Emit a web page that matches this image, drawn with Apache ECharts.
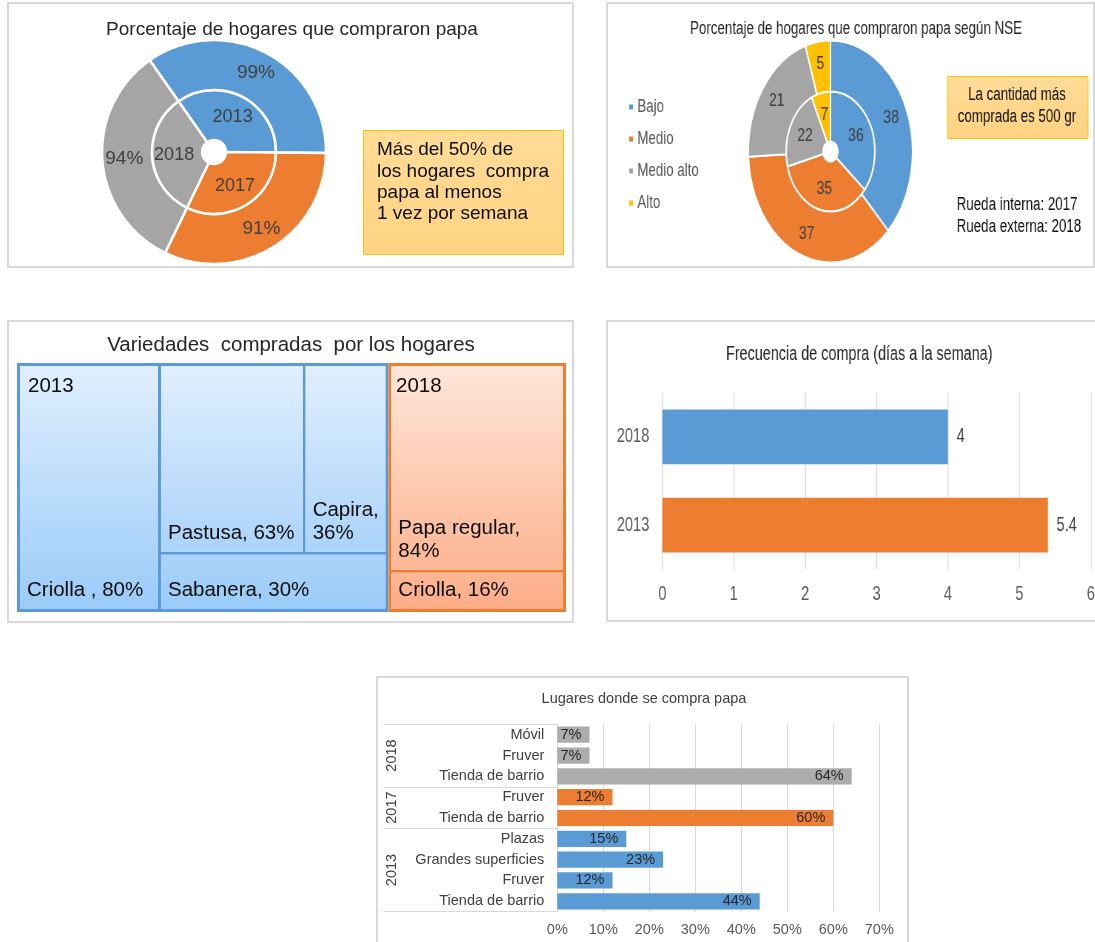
<!DOCTYPE html>
<html>
<head>
<meta charset="utf-8">
<title>Compra de papa</title>
<script src="https://cdn.jsdelivr.net/npm/echarts/dist/echarts.min.js"></script>
<style>
  html, body { margin: 0; padding: 0; background: #fff; overflow: hidden; }
  body { width: 1095px; height: 942px; position: relative; }
  .panel { position: absolute; box-sizing: border-box; border: 2px solid #d9d9d9; background: #fff; }
  .chart { position: absolute; }
  .narrow { transform-origin: 0 0; }
</style>
</head>
<body>
  <div class="panel" style="left:7px;top:2px;width:567px;height:266px"></div>
  <div class="panel" style="left:606px;top:2px;width:489px;height:266px"></div>
  <div class="panel" style="left:7px;top:320px;width:567px;height:303px"></div>
  <div class="panel" style="left:606px;top:320px;width:500px;height:302px"></div>
  <div class="panel" style="left:376px;top:676px;width:533px;height:300px"></div>

  <div id="main" class="chart" style="left:0;top:0;width:1095px;height:942px"></div>
  <!-- los dos paneles de la derecha vienen estirados en el original -->
  <div id="nse" class="chart narrow" style="left:607px;top:3px;width:660px;height:265px;transform:scaleX(0.74)"></div>
  <div id="frec" class="chart narrow" style="left:607px;top:321px;width:700px;height:301px;transform:scaleX(0.72)"></div>

<script>
// ---- datos ----
// Porcentaje de hogares que compraron papa
const anios = ['2013', '2017', '2018']
const pctCompra = [99, 91, 94]

// Porcentaje según NSE (rueda interna 2017, externa 2018)
const nse = ['Bajo', 'Medio', 'Medio alto', 'Alto']
const nse2017 = [36, 35, 22, 7]
const nse2018 = [38, 37, 21, 5]

// Variedades compradas
const variedades2013 = ['Criolla ', 'Pastusa', 'Capira', 'Sabanera']
const valVariedades2013 = [80, 63, 36, 30]
const variedades2018 = ['Papa regular', 'Criolla']
const valVariedades2018 = [84, 16]

// Frecuencia de compra (días a la semana)
const frecAnios = ['2013', '2018']
const frecDias = [5.4, 4]

// Lugares donde se compra papa (de abajo hacia arriba)
const lugares2013 = ['Tienda de barrio', 'Fruver', 'Grandes superficies', 'Plazas']
const valLugares2013 = [44, 12, 23, 15]
const lugares2017 = ['Tienda de barrio', 'Fruver']
const valLugares2017 = [60, 12]
const lugares2018 = ['Tienda de barrio', 'Fruver', 'Móvil']
const valLugares2018 = [64, 7, 7]

// ---- estilos ----
const azul = '#5B9BD5'
const naranja = '#ED7D31'
const gris = '#A5A5A5'
const amarillo = '#FFC000'
const grisLugar = '#AEABAB'
const fuente = "'Liberation Sans', Arial, sans-serif"

// tonos del degradado de cada celda del treemap (arriba, abajo)
const tonos2013 = [['#E0EFFE', '#9ACBF8'], ['#E0EFFE', '#ABD3F9'], ['#E0EFFE', '#ABD3F9'], ['#ABD3F9', '#9ACBF8']]
const tonos2018 = [['#FFE6DA', '#FCB694'], ['#FCB694', '#FBAC86']]
// etiquetas que van en dos líneas
const enDosLineas = ['Capira', 'Papa regular']

function texto (x, y, text, size, more) {
  let style = {
    text: text,
    fontSize: size,
    fontFamily: fuente,
    fill: '#262626',
    align: 'center',
    verticalAlign: 'middle',
    textAlign: 'center',
    textVerticalAlign: 'middle'
  }
  Object.assign(style, more || {})
  return { type: 'text', x: x, y: y, z: 100, silent: true, style: style }
}

function cajaAmarilla (x, y, w, h) {
  return {
    type: 'rect',
    silent: true,
    shape: { x: x, y: y, width: w, height: h },
    style: {
      fill: {
        type: 'linear', x: 0, y: 0, x2: 0, y2: 1,
        colorStops: [{ offset: 0, color: '#FFDC97' }, { offset: 1, color: '#FFD382' }]
      },
      stroke: amarillo,
      lineWidth: 1
    }
  }
}

function degradado (t) {
  return {
    type: 'linear', x: 0, y: 0, x2: 0, y2: 1,
    colorStops: [{ offset: 0, color: t[0] }, { offset: 1, color: t[1] }]
  }
}

// ---- lugares: eje de dos niveles ----
const grupos = [
  { anio: '2013', lugares: lugares2013, valores: valLugares2013, color: azul },
  { anio: '2017', lugares: lugares2017, valores: valLugares2017, color: naranja },
  { anio: '2018', lugares: lugares2018, valores: valLugares2018, color: grisLugar }
]
let lugarCats = []
let lugarVals = []
let tickIdx = [0]
let anioIdx = []
let n = 0
grupos.forEach(g => {
  g.lugares.forEach((l, i) => {
    lugarCats.push(l)
    lugarVals.push({ value: g.valores[i], itemStyle: { color: g.color } })
  })
  anioIdx.push(2 * n + g.lugares.length)
  n += g.lugares.length
  tickIdx.push(2 * n)
})
let anioSlots = []
for (let k = 0; k <= 2 * n; k++) anioSlots.push('')
grupos.forEach((g, i) => { anioSlots[anioIdx[i]] = g.anio })

// ---- gráfico principal: paneles 1, 3 y 5 ----
let main = echarts.init(document.getElementById('main'))
let mainOption = {
  animation: false,
  textStyle: { fontFamily: fuente },
  graphic: [
    texto(292, 29.5, 'Porcentaje de hogares que compraron papa', 19),
    cajaAmarilla(363.5, 130.5, 200, 124),
    texto(377, 139.5, 'Más del 50% de\nlos hogares  compra\npapa al menos\n1 vez por semana', 19, {
      align: 'left', textAlign: 'left', verticalAlign: 'top', textVerticalAlign: 'top', lineHeight: 21.2, fill: '#0d0d0d'
    }),
    texto(291, 345, 'Variedades  compradas  por los hogares', 20.5),
    texto(28, 386, '2013', 20.5, { align: 'left', textAlign: 'left', fill: '#0d0d0d' }),
    texto(396, 386, '2018', 20.5, { align: 'left', textAlign: 'left', fill: '#0d0d0d' }),
    texto(644, 698.5, 'Lugares donde se compra papa', 14.5, { fill: '#404040' })
  ],
  grid: {
    left: 557.3,
    top: 724.3,
    width: 322,
    height: 187.4,
    containLabel: false,
    outerBoundsMode: 'none'
  },
  xAxis: {
    type: 'value',
    min: 0,
    max: 70,
    interval: 10,
    axisLine: { show: false },
    axisTick: { show: false },
    splitLine: { lineStyle: { color: '#D9D9D9' } },
    axisLabel: { formatter: '{value}%', fontSize: 14.5, color: '#595959', margin: 11 }
  },
  yAxis: [
    {
      type: 'category',
      data: lugarCats,
      axisLine: { show: true, lineStyle: { color: '#D9D9D9' } },
      axisTick: { show: false },
      axisLabel: { interval: 0, fontSize: 14.5, color: '#404040', margin: 13 }
    },
    {
      type: 'category',
      data: anioSlots,
      boundaryGap: false,
      min: 0,
      max: anioSlots.length - 1,
      position: 'left',
      axisLine: { show: false },
      axisTick: {
        show: true,
        length: 174,
        interval: (i) => tickIdx.indexOf(i) >= 0,
        lineStyle: { color: '#D9D9D9' }
      },
      axisLabel: {
        interval: (i) => anioIdx.indexOf(i) >= 0,
        rotate: 90,
        margin: 158,
        fontSize: 14.5,
        color: '#404040'
      }
    }
  ],
  series: [
    {
      type: 'pie',
      silent: true,
      center: [214, 152],
      radius: [12, 62],
      startAngle: 125,
      clockwise: true,
      label: { position: 'inside', formatter: '{b}', fontSize: 18, color: '#404040' },
      labelLine: { show: false },
      itemStyle: { borderColor: '#fff', borderWidth: 2.5 },
      data: anios.map((a, i) => ({ name: a, value: pctCompra[i], itemStyle: { color: [azul, naranja, gris][i] } }))
    },
    {
      type: 'pie',
      silent: true,
      center: [214, 152],
      radius: [62, 112],
      startAngle: 125,
      clockwise: true,
      label: { position: 'inside', formatter: '{c}%', fontSize: 19, color: '#404040' },
      labelLine: { show: false },
      itemStyle: { borderColor: '#fff', borderWidth: 2.5 },
      data: anios.map((a, i) => ({ name: a, value: pctCompra[i], itemStyle: { color: [azul, naranja, gris][i] } }))
    },
    {
      type: 'treemap',
      silent: true,
      roam: false,
      nodeClick: false,
      breadcrumb: { show: false },
      left: 17,
      top: 363,
      width: 549,
      height: 249,
      squareRatio: 1.125,
      label: {
        show: true,
        position: 'insideBottomLeft',
        distance: 2,
        padding: 5,
        overflow: 'break',
        fontSize: 20.5,
        lineHeight: 23,
        color: '#0d0d0d',
        formatter: (p) => p.name + ',' + (enDosLineas.indexOf(p.name) >= 0 ? '\n' : ' ') + p.value + '%'
      },
      levels: [
        { itemStyle: { borderWidth: 0, gapWidth: 0, borderColor: '#fff' } },
        { itemStyle: { borderWidth: 3, gapWidth: 3 } },
        { itemStyle: { borderWidth: 0 } }
      ],
      data: [
        {
          name: '2013',
          itemStyle: { borderColor: azul },
          children: variedades2013.map((v, i) => ({ name: v, value: valVariedades2013[i], itemStyle: { color: degradado(tonos2013[i]) } }))
        },
        {
          name: '2018',
          itemStyle: { borderColor: naranja },
          children: variedades2018.map((v, i) => ({ name: v, value: valVariedades2018[i], itemStyle: { color: degradado(tonos2018[i]) } }))
        }
      ]
    },
    {
      type: 'bar',
      silent: true,
      xAxisIndex: 0,
      yAxisIndex: 0,
      barWidth: '78%',
      label: {
        show: true,
        position: 'insideRight',
        distance: 8,
        formatter: '{c}%',
        fontSize: 14.5,
        color: '#262626'
      },
      data: lugarVals
    }
  ]
}
main.setOption(mainOption)

// ---- panel 2: según NSE ----
let nseChart = echarts.init(document.getElementById('nse'))
let nseOption = {
  animation: false,
  textStyle: { fontFamily: fuente },
  color: [azul, naranja, gris, amarillo],
  legend: {
    data: nse,
    orient: 'vertical',
    left: 23,
    top: 90,
    icon: 'rect',
    itemWidth: 7,
    itemHeight: 7,
    itemGap: 14,
    selectedMode: false,
    textStyle: { fontSize: 18, color: '#595959' }
  },
  graphic: [
    texto(336.5, 26.5, 'Porcentaje de hogares que compraron papa según NSE', 18),
    cajaAmarilla(460, 73.5, 190, 62),
    texto(554, 103, 'La cantidad más\ncomprada es 500 gr', 18, { lineHeight: 21.7, fill: '#0d0d0d' }),
    texto(472.6, 191.5, 'Rueda interna: 2017\nRueda externa: 2018', 18, {
      align: 'left', textAlign: 'left', verticalAlign: 'top', textVerticalAlign: 'top', lineHeight: 21.5, fill: '#0d0d0d'
    })
  ],
  series: [
    {
      name: '2017',
      type: 'pie',
      silent: true,
      center: [302, 148.5],
      radius: [10, 60],
      startAngle: 90,
      label: { position: 'inside', formatter: '{c}', fontSize: 19, color: '#404040' },
      labelLine: { show: false },
      itemStyle: { borderColor: '#fff', borderWidth: 2 },
      data: nse.map((s, i) => ({ name: s, value: nse2017[i] }))
    },
    {
      name: '2018',
      type: 'pie',
      silent: true,
      center: [302, 148.5],
      radius: [60, 111],
      startAngle: 90,
      label: { position: 'inside', formatter: '{c}', fontSize: 19, color: '#404040' },
      labelLine: { show: false },
      itemStyle: { borderColor: '#fff', borderWidth: 2 },
      data: nse.map((s, i) => ({ name: s, value: nse2018[i] }))
    }
  ]
}
nseChart.setOption(nseOption)

// ---- panel 4: frecuencia de compra ----
let frecChart = echarts.init(document.getElementById('frec'))
let frecOption = {
  animation: false,
  textStyle: { fontFamily: fuente },
  graphic: [
    texto(350.3, 33.3, 'Frecuencia de compra (días a la semana)', 20)
  ],
  grid: {
    left: 76.8,
    top: 71.6,
    width: 595,
    height: 176.8,
    containLabel: false,
    outerBoundsMode: 'none'
  },
  xAxis: {
    type: 'value',
    min: 0,
    max: 6,
    interval: 1,
    axisLine: { show: false },
    axisTick: { show: false },
    splitLine: { lineStyle: { color: '#D9D9D9', width: 1.4 } },
    axisLabel: { fontSize: 20.4, color: '#595959', margin: 15 }
  },
  yAxis: {
    type: 'category',
    data: frecAnios,
    axisLine: { show: false },
    axisTick: { show: false },
    axisLabel: { fontSize: 20.4, color: '#595959', margin: 18 }
  },
  series: [
    {
      type: 'bar',
      silent: true,
      barWidth: '62%',
      label: { show: true, position: 'right', distance: 12, fontSize: 20.4, color: '#404040' },
      data: frecDias.map((v, i) => ({ value: v, itemStyle: { color: [naranja, azul][i] } }))
    }
  ]
}
frecChart.setOption(frecOption)
</script>
</body>
</html>
